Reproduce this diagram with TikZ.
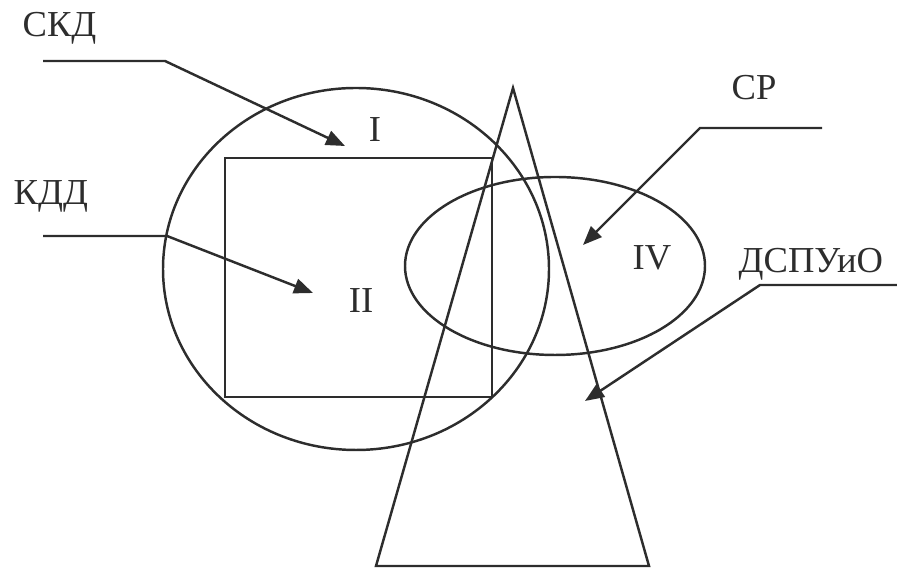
\documentclass[tikz,border=0pt]{standalone}
\usepackage{fontspec}
\setmainfont{Liberation Serif}
\usepackage{tikz}
\usetikzlibrary{arrows.meta}
\definecolor{inkgrey}{RGB}{45,45,45}
\tikzset{
  setline/.style={draw=inkgrey, line width=0.7pt},
  leadline/.style={draw=inkgrey, line width=0.7pt,
    -{Triangle[length=1.9mm, width=1.5mm]}},
  setname/.style={font=\fontsize{10.4}{12}\selectfont, text=inkgrey,
    inner sep=0pt},
}
\begin{document}
\begin{tikzpicture}[x=0.01cm, y=-0.01cm]
\useasboundingbox (0,0) rectangle (897,571);

% the four sets
\draw[setline] (356,269) ellipse [x radius=193, y radius=181];
\draw[setline] (225,158) rectangle (492,397);
\draw[setline] (555,266) ellipse [x radius=150, y radius=89];
\draw[setline] (513,88) -- (376,566) -- (649,566) -- cycle;

% names of the sets
\node[setname, anchor=base west] (skd) at (22,37) {СКД};
\node[setname, anchor=base west] (kdd) at (13,205) {КДД};
\node[setname, anchor=base west] (sr) at (731,100) {СР};
\node[setname, anchor=base west] (dspuio) at (738,273) {ДСПУиО};

\node[setname, anchor=base] (one) at (375,142) {I};
\node[setname, anchor=base] (two) at (361,313) {II};
\node[setname, anchor=base] (four) at (652,270) {IV};

% leaders
\coordinate (skdA) at (43,61);
\coordinate (skdB) at (165,61);
\coordinate (skdT) at (345,146);
\coordinate (kddA) at (43,236);
\coordinate (kddB) at (167,236);
\coordinate (kddT) at (313,293);
\coordinate (srA) at (822,128);
\coordinate (srB) at (700,128);
\coordinate (srT) at (583,245);
\coordinate (dsA) at (897,285);
\coordinate (dsB) at (760,285);
\coordinate (dsT) at (585,401);

\draw[leadline] (skdA) -- (skdB) -- (skdT);
\draw[leadline] (kddA) -- (kddB) -- (kddT);
\draw[leadline] (srA) -- (srB) -- (srT);
\draw[leadline] (dsA) -- (dsB) -- (dsT);
\end{tikzpicture}
\end{document}
